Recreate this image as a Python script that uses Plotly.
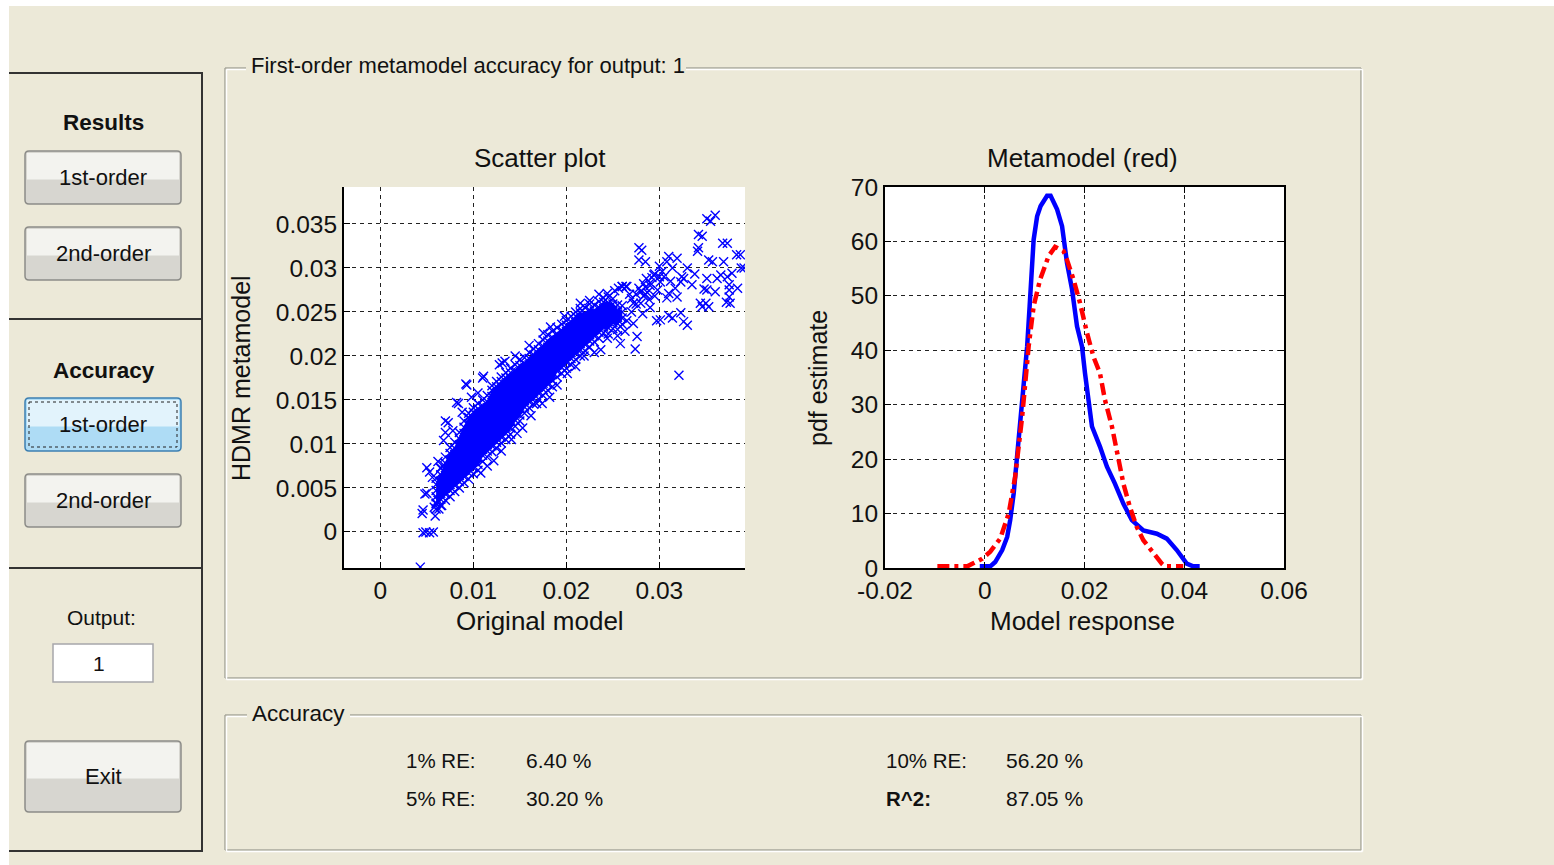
import plotly.graph_objects as go

W, H = 1554, 865

# ---------------- data ----------------
# Scatter plot: dense core, columns of Original model (x, x1e-3) -> HDMR metamodel values (y, x1e-3)
CORE_X = [6.0, 6.5, 7.0, 7.5, 8.0, 8.5, 9.0, 9.5, 10.0, 10.5, 11.0, 11.5, 12.0, 12.5, 13.0,
          13.5, 14.0, 14.5, 15.0, 15.5, 16.0, 16.5, 17.0, 17.5, 18.0, 18.5, 19.0, 19.5, 20.0,
          20.5, 21.0, 21.5, 22.0, 22.5, 23.0, 23.5, 24.0, 24.5, 25.0, 25.5, 26.0]
CORE_Y = [
    [2.6, 3.3, 4.0, 4.7, 5.4, 6.1],
    [3.0, 3.7, 4.4, 5.1, 5.8, 6.5, 7.2],
    [3.6, 4.3, 5.0, 5.7, 6.4, 7.1, 7.8, 8.5],
    [4.0, 4.7, 5.4, 6.1, 6.8, 7.5, 8.2, 8.9, 9.6],
    [4.6, 5.3, 6.0, 6.7, 7.4, 8.1, 8.8, 9.5, 10.2],
    [5.0, 5.7, 6.4, 7.1, 7.8, 8.5, 9.2, 9.9, 10.6, 11.3],
    [5.6, 6.3, 7.0, 7.7, 8.4, 9.1, 9.8, 10.5, 11.2, 11.9, 12.6],
    [6.0, 6.7, 7.4, 8.1, 8.8, 9.5, 10.2, 10.9, 11.6, 12.3, 13.0, 13.5],
    [6.6, 7.3, 8.0, 8.7, 9.4, 10.1, 10.8, 11.5, 12.2, 12.9, 13.6, 14.1],
    [7.0, 7.7, 8.4, 9.1, 9.8, 10.5, 11.2, 11.9, 12.6, 13.3, 14.0, 14.6],
    [8.0, 8.7, 9.4, 10.1, 10.8, 11.5, 12.2, 12.9, 13.6, 14.3, 15.0],
    [8.5, 9.2, 9.9, 10.6, 11.3, 12.0, 12.7, 13.4, 14.1, 14.8, 15.5],
    [9.1, 9.8, 10.5, 11.2, 11.9, 12.6, 13.3, 14.0, 14.7, 15.4, 16.1, 16.6],
    [9.5, 10.2, 10.9, 11.6, 12.3, 13.0, 13.7, 14.4, 15.1, 15.8, 16.5, 17.1],
    [10.1, 10.8, 11.5, 12.2, 12.9, 13.6, 14.3, 15.0, 15.7, 16.4, 17.1, 17.6],
    [10.5, 11.2, 11.9, 12.6, 13.3, 14.0, 14.7, 15.4, 16.1, 16.8, 17.5, 18.1],
    [11.1, 11.8, 12.5, 13.2, 13.9, 14.6, 15.3, 16.0, 16.7, 17.4, 18.1, 18.6],
    [12.0, 12.7, 13.4, 14.1, 14.8, 15.5, 16.2, 16.9, 17.6, 18.3, 19.0],
    [12.6, 13.3, 14.0, 14.7, 15.4, 16.1, 16.8, 17.5, 18.2, 18.9, 19.6],
    [13.5, 14.2, 14.9, 15.6, 16.3, 17.0, 17.7, 18.4, 19.1, 19.8],
    [14.1, 14.8, 15.5, 16.2, 16.9, 17.6, 18.3, 19.0, 19.7, 20.4],
    [14.5, 15.2, 15.9, 16.6, 17.3, 18.0, 18.7, 19.4, 20.1, 20.8],
    [15.1, 15.8, 16.5, 17.2, 17.9, 18.6, 19.3, 20.0, 20.7, 21.4],
    [15.5, 16.2, 16.9, 17.6, 18.3, 19.0, 19.7, 20.4, 21.1, 21.8],
    [16.1, 16.8, 17.5, 18.2, 18.9, 19.6, 20.3, 21.0, 21.7, 22.4],
    [16.5, 17.2, 17.9, 18.6, 19.3, 20.0, 20.7, 21.4, 22.1, 22.8],
    [17.6, 18.3, 19.0, 19.7, 20.4, 21.1, 21.8, 22.5, 23.2],
    [18.0, 18.7, 19.4, 20.1, 20.8, 21.5, 22.2, 22.9, 23.6],
    [18.6, 19.3, 20.0, 20.7, 21.4, 22.1, 22.8, 23.5, 24.0],
    [19.0, 19.7, 20.4, 21.1, 21.8, 22.5, 23.2, 23.9, 24.5],
    [19.6, 20.3, 21.0, 21.7, 22.4, 23.1, 23.8, 24.5, 25.0],
    [20.0, 20.7, 21.4, 22.1, 22.8, 23.5, 24.2, 24.9, 25.4],
    [20.6, 21.3, 22.0, 22.7, 23.4, 24.1, 24.8, 25.5],
    [21.0, 21.7, 22.4, 23.1, 23.8, 24.5, 25.2, 25.9],
    [21.6, 22.3, 23.0, 23.7, 24.4, 25.1, 25.8],
    [22.0, 22.7, 23.4, 24.1, 24.8, 25.5, 26.2],
    [22.6, 23.3, 24.0, 24.7, 25.4, 26.1, 26.6],
    [22.5, 23.2, 23.9, 24.6, 25.3, 26.0, 26.7],
    [23.1, 23.8, 24.5, 25.2, 25.9, 26.5],
    [23.0, 23.7, 24.4, 25.1, 25.8],
    [23.6, 24.3, 25.0, 25.7],
]
# Scatter plot: sparse points around the core (x1e-3)
SPARSE_X = [4.3, 4.6, 4.9, 5.3, 5.7, 4.5, 4.6, 4.8, 5.0, 5.8, 6.0, 6.3, 6.6, 6.2, 5.9,
            5.0, 5.3, 5.6, 6.5, 6.8, 6.2, 7.0, 7.0, 6.8, 7.3, 8.2, 8.4, 9.2, 9.3, 11.0,
            11.1, 13.1, 13.4, 12.8, 10.5, 9.8, 8.8, 7.8,
            10.8, 11.5, 12.2, 13.0, 14.1, 14.7, 15.3, 16.2, 16.8, 17.4, 18.2, 19.0, 20.1,
            21.0, 21.9, 23.0, 23.7, 24.4, 25.5, 26.3, 27.2, 27.4, 27.6, 25.8, 26.5, 27.0, 27.5,
            14.5, 16.0, 17.5, 18.3, 19.8, 21.5, 22.5, 23.5, 24.4, 25.2, 26.0, 26.4, 25.6, 26.8,
            27.8, 28.3, 28.9, 28.0, 28.5, 29.4, 29.8, 30.3, 30.1, 28.6, 29.0, 29.5, 30.5,
            27.8, 27.8, 28.1, 28.5, 31.0, 31.9, 30.8, 31.4, 34.1, 35.3, 35.7, 34.6, 34.2, 34.2,
            35.1, 36.0, 35.5, 37.3, 36.8, 38.7, 39.1, 38.3, 36.9, 36.6, 37.3, 37.8, 36.2, 38.4,
            37.5, 37.5, 37.6, 37.2, 35.1, 35.1, 34.4, 34.6, 35.3, 35.0, 32.4, 32.3, 31.7, 31.9,
            30.8, 31.0, 33.5, 32.6, 31.4, 32.3, 33.0, 32.6, 30.1, 31.0, 29.7, 32.1, 26.0, 26.5,
            38.8, 37.5, 33.8, 34.8, 36.0, 29.0, 28.2, 31.2, 30.0, 33.0,
            27.0, 27.5, 28.0, 28.5, 29.0, 27.2, 28.7, 29.2, 28.3, 29.5, 30.0]
SPARSE_Y = [-4.0, -0.1, 0.0, -0.1, 0.0, 2.1, 2.5, 4.3, 4.4, 2.8, 3.2, 2.6, 3.0, 3.6, 1.8,
            7.3, 6.8, 6.2, 7.3, 7.6, 8.0, 11.3, 12.6, 10.4, 12.4, 14.7, 14.6, 16.8, 16.7, 17.5,
            17.7, 19.2, 19.4, 19.0, 15.8, 15.3, 13.6, 11.5,
            6.7, 7.5, 8.1, 9.2, 10.5, 11.2, 11.8, 13.2, 14.6, 14.6, 15.3, 16.7, 18.0,
            18.8, 20.0, 20.4, 20.7, 22.0, 22.3, 22.8, 23.7, 20.8, 22.2, 21.4, 24.0, 25.0, 25.9,
            20.0, 21.2, 22.6, 23.3, 24.5, 26.0, 26.3, 27.0, 27.1, 27.4, 27.9, 27.9, 27.7, 27.0,
            27.7, 28.2, 26.4, 26.0, 27.0, 29.2, 27.5, 29.6, 28.4, 28.8, 28.0, 26.8, 29.0,
            32.3, 30.9, 32.0, 30.7, 31.3, 31.1, 30.7, 30.0, 31.9, 30.9, 30.7, 33.6, 32.3, 33.8,
            35.6, 36.0, 35.3, 32.8, 32.8, 31.5, 30.0, 31.5, 30.7, 29.2, 29.0, 29.4, 28.8, 27.7,
            27.5, 26.7, 26.0, 26.1, 28.8, 27.5, 26.0, 25.6, 25.6, 26.0, 29.0, 28.4, 27.7, 26.7,
            26.6, 27.1, 28.1, 28.8, 24.3, 24.9, 23.5, 23.9, 24.1, 24.6, 24.0, 17.8, 27.9, 27.9,
            30.0, 28.1, 29.3, 27.6, 27.3, 25.5, 24.8, 28.5, 30.2, 30.0,
            26.5, 27.0, 27.3, 27.8, 28.3, 26.0, 27.2, 28.9, 26.8, 29.3, 29.0]

SC_XTICKS = [0, 0.01, 0.02, 0.03]
SC_XTICKTEXT = ["0", "0.01", "0.02", "0.03"]
SC_YTICKS = [0, 0.005, 0.01, 0.015, 0.02, 0.025, 0.03, 0.035]
SC_YTICKTEXT = ["0", "0.005", "0.01", "0.015", "0.02", "0.025", "0.03", "0.035"]

# pdf estimate, original model (blue)
PDF_ORIG_X = [-0.0010, 0.0011, 0.0021, 0.0035, 0.0045, 0.0051, 0.0058, 0.0065, 0.0068, 0.0075,
              0.0085, 0.0090, 0.0094, 0.0098, 0.0105, 0.0112, 0.0125, 0.0132, 0.0145, 0.0155,
              0.0165, 0.0175, 0.0185, 0.0195, 0.0201, 0.0206, 0.0215, 0.0231, 0.0245, 0.0261,
              0.0278, 0.0295, 0.0318, 0.0345, 0.0365, 0.0385, 0.0405, 0.0418, 0.0431]
PDF_ORIG_Y = [0.3, 0.3, 1.1, 3.3, 5.7, 8.8, 13.7, 20.4, 25.4, 30.9,
              40.7, 48.1, 54.2, 60.3, 64.6, 66.5, 68.4, 68.4, 65.9, 62.8,
              56.0, 51.2, 44.4, 40.7, 35.8, 32.1, 26.0, 22.3, 18.6, 15.5,
              11.8, 8.8, 6.9, 6.3, 5.4, 3.3, 0.8, 0.3, 0.3]
# pdf estimate, metamodel (red)
PDF_META_X = [-0.0095, -0.0035, -0.0022, -0.0005, 0.0011, 0.0031, 0.0048, 0.0061, 0.0075, 0.0088,
              0.0098, 0.0111, 0.0128, 0.0141, 0.0158, 0.0165, 0.0178, 0.0191, 0.0205, 0.0218,
              0.0231, 0.0241, 0.0255, 0.0265, 0.0278, 0.0291, 0.0305, 0.0318, 0.0338, 0.0355,
              0.0361, 0.0398]
PDF_META_Y = [0.3, 0.3, 0.9, 1.7, 3.0, 5.4, 10.0, 16.8, 27.8, 40.7,
              48.1, 53.0, 57.3, 59.0, 58.2, 56.6, 53.0, 48.7, 43.2, 38.8,
              35.8, 30.9, 26.0, 21.7, 15.5, 11.2, 7.5, 5.1, 2.6, 0.8,
              0.3, 0.3]
PDF_XTICKS = [-0.02, 0, 0.02, 0.04, 0.06]
PDF_XTICKTEXT = ["-0.02", "0", "0.02", "0.04", "0.06"]
PDF_YTICKS = [0, 10, 20, 30, 40, 50, 60, 70]

ACC_LABELS = ["1% RE:", "5% RE:", "10% RE:", "R^2:"]
ACC_VALUES = ["6.40 %", "30.20 %", "56.20 %", "87.05 %"]

# ---------------- build ----------------
sc_x, sc_y = [], []
for xv, ys in zip(CORE_X, CORE_Y):
    for yv in ys:
        sc_x.append(xv / 1000)
        sc_y.append(yv / 1000)
for xv, yv in zip(SPARSE_X, SPARSE_Y):
    sc_x.append(xv / 1000)
    sc_y.append(yv / 1000)

# envelope of the dense core (where the crosses merge into solid blue)
env_x = [v / 1000 for v in CORE_X] + [v / 1000 for v in CORE_X[::-1]]
env_y = [(min(c) + 0.5) / 1000 for c in CORE_Y] + [(max(c) - 0.5) / 1000 for c in CORE_Y[::-1]]

FONT = "Liberation Sans, Arial, sans-serif"
BG = "#ECE9D8"


def X(px):
    return px / W


def Y(py):
    return 1 - py / H


shapes = []
annotations = []


def line(x0, y0, x1, y1, color, width=1, dash=None):
    d = dict(color=color, width=width)
    if dash:
        d["dash"] = dash
    shapes.append(dict(type="line", xref="paper", yref="paper", x0=X(x0), y0=Y(y0),
                       x1=X(x1), y1=Y(y1), line=d, layer="above"))


def rect(x0, y0, x1, y1, fill, lc=None, lw=0):
    shapes.append(dict(type="rect", xref="paper", yref="paper", x0=X(x0), y0=Y(y0),
                       x1=X(x1), y1=Y(y1), fillcolor=fill,
                       line=dict(color=lc or fill, width=lw), layer="above"))


def rrect(x0, y0, x1, y1, r, fill, lc, lw=1):
    p = (f"M {X(x0 + r)},{Y(y0)} L {X(x1 - r)},{Y(y0)} Q {X(x1)},{Y(y0)} {X(x1)},{Y(y0 + r)} "
         f"L {X(x1)},{Y(y1 - r)} Q {X(x1)},{Y(y1)} {X(x1 - r)},{Y(y1)} "
         f"L {X(x0 + r)},{Y(y1)} Q {X(x0)},{Y(y1)} {X(x0)},{Y(y1 - r)} "
         f"L {X(x0)},{Y(y0 + r)} Q {X(x0)},{Y(y0)} {X(x0 + r)},{Y(y0)} Z")
    shapes.append(dict(type="path", xref="paper", yref="paper", path=p, fillcolor=fill,
                       line=dict(color=lc, width=lw), layer="above"))


def text(x, y, s, size=21, bold=False, xanchor="center", color="#111111", angle=0):
    annotations.append(dict(xref="paper", yref="paper", x=X(x), y=Y(y), text=f"<b>{s}</b>" if bold else s,
                            showarrow=False, xanchor=xanchor, yanchor="middle", textangle=angle,
                            font=dict(family=FONT, size=size, color=color)))


# white screenshot border
rect(0, 0, W, 6, "white")
rect(0, 0, 9, H, "white")

# left panel lines
DARK = "#333333"
line(9, 73, 203, 73, DARK, 2)
line(202, 73, 202, 852, DARK, 2)
line(9, 319, 202, 319, DARK, 2)
line(9, 568, 202, 568, DARK, 2)
line(9, 851, 202, 851, DARK, 2)


def button(x0, y0, x1, y1, label, focused=False):
    if focused:
        rrect(x0, y0, x1, y1, 4, "#AEDCF5", "#3C7FB1", 1.5)
        rect(x0 + 2, y0 + 2, x1 - 2, (y0 + y1) / 2 + 2, "#E2F3FC")
        shapes.append(dict(type="rect", xref="paper", yref="paper", x0=X(x0 + 4), y0=Y(y0 + 4),
                           x1=X(x1 - 4), y1=Y(y1 - 4), line=dict(color="#222", width=1, dash="dot"),
                           layer="above"))
    else:
        rrect(x0, y0, x1, y1, 4, "#D7D6D0", "#8C8C88", 1.5)
        rect(x0 + 2, y0 + 2, x1 - 2, (y0 + y1) / 2 + 2, "#F3F3EF")
    text((x0 + x1) / 2, (y0 + y1) / 2, label, size=22)


text(103, 122, "Results", size=22.5, bold=True)
button(25, 151, 181, 204, "1st-order")
button(25, 227, 181, 280, "2nd-order")
text(104, 370, "Accuracy", size=22.5, bold=True)
button(25, 398, 181, 451, "1st-order", focused=True)
button(25, 474, 181, 527, "2nd-order")
text(102, 617, "Output:", size=21)
rect(53, 644, 153, 682, "white", "#A7A6AA", 1.5)
text(99, 663, "1", size=21)
button(25, 741, 181, 812, "Exit")

# etched group panels
GREY, WHITE = "#A9A79C", "#FFFFFF"


def etched_panel(x0, y0, x1, y1, title, tx0, tx1, size):
    for c, o in ((GREY, 0), (WHITE, 1.5)):
        line(x0 + o, y0 + o, tx0, y0 + o, c, 1.5)
        line(tx1, y0 + o, x1 + o, y0 + o, c, 1.5)
        line(x0 + o, y0 + o, x0 + o, y1 + o, c, 1.5)
        line(x1 + o, y0 + o, x1 + o, y1 + o, c, 1.5)
        line(x0 + o, y1 + o, x1 + o, y1 + o, c, 1.5)
    text(tx0 + 3, y0 - 2, title, size=size, xanchor="left")


etched_panel(225, 68, 1361, 678, "First-order metamodel accuracy for output: 1", 246, 686, 22)
etched_panel(225, 715, 1361, 850, "Accuracy", 247, 350, 22.5)

# accuracy texts
text(404, 760, ACC_LABELS[0], size=20.5, xanchor="left")
text(524, 760, ACC_VALUES[0], size=21, xanchor="left")
text(404, 798, ACC_LABELS[1], size=20.5, xanchor="left")
text(524, 798, ACC_VALUES[1], size=21, xanchor="left")
text(884, 760, ACC_LABELS[2], size=20.5, xanchor="left")
text(1004, 760, ACC_VALUES[2], size=21, xanchor="left")
text(884, 798, ACC_LABELS[3], size=20.5, xanchor="left", bold=True)
text(1004, 798, ACC_VALUES[3], size=21, xanchor="left")

# plot titles / axis titles
text(540, 158, "Scatter plot", size=26)
text(540, 621, "Original model", size=26)
text(241, 378, "HDMR metamodel", size=25, angle=-90)
text(1082, 158, "Metamodel (red)", size=26)
text(1082, 621, "Model response", size=26)
text(818, 378, "pdf estimate", size=25, angle=-90)

fig = go.Figure()
fig.add_trace(go.Scatter(x=env_x, y=env_y, mode="lines", fill="toself", fillcolor="#0000FF",
                         line=dict(width=0, color="#0000FF"), xaxis="x", yaxis="y",
                         showlegend=False, hoverinfo="skip"))
fig.add_trace(go.Scatter(x=sc_x, y=sc_y, mode="markers", xaxis="x", yaxis="y",
                         marker=dict(symbol="x-thin", size=9, color="#0000FF",
                                     line=dict(color="#0000FF", width=1.4)),
                         showlegend=False, hoverinfo="skip"))
fig.add_trace(go.Scatter(x=PDF_ORIG_X, y=PDF_ORIG_Y, mode="lines", xaxis="x2", yaxis="y2",
                         line=dict(color="#0000FF", width=4.5), showlegend=False, hoverinfo="skip"))
fig.add_trace(go.Scatter(x=PDF_META_X, y=PDF_META_Y, mode="lines", xaxis="x2", yaxis="y2",
                         line=dict(color="#FF0000", width=4.5, dash="12px,5px,4px,5px"),
                         showlegend=False, hoverinfo="skip"))

tickfont = dict(family=FONT, size=24.5, color="#111111")
common = dict(showgrid=True, gridcolor="#222222", gridwidth=1, griddash="4px,4px", zeroline=False,
              showline=True, linecolor="black", linewidth=2, ticks="inside", ticklen=6,
              tickcolor="black", tickfont=tickfont, fixedrange=True, automargin=False)

dom_y = [Y(568), Y(187)]
fig.update_layout(
    width=W, height=H, autosize=False,
    margin=dict(l=0, r=0, t=0, b=0, pad=0, autoexpand=False),
    paper_bgcolor=BG, plot_bgcolor="white",
    xaxis=dict(domain=[X(344), X(745)], range=[-0.0039, 0.0392], tickvals=SC_XTICKS,
               ticktext=SC_XTICKTEXT, anchor="y", mirror=False, **common),
    yaxis=dict(domain=dom_y, range=[-0.0041, 0.0392], tickvals=SC_YTICKS,
               ticktext=SC_YTICKTEXT, anchor="x", mirror=False, **common),
    xaxis2=dict(domain=[X(885), X(1284)], range=[-0.02, 0.06], tickvals=PDF_XTICKS,
                ticktext=PDF_XTICKTEXT, anchor="y2", mirror="ticks", **common),
    yaxis2=dict(domain=dom_y, range=[0, 70], tickvals=PDF_YTICKS, anchor="x2",
                mirror="ticks", **common),
    shapes=shapes, annotations=annotations, showlegend=False,
)

fig.write_html("out.html", config={"displayModeBar": False})
